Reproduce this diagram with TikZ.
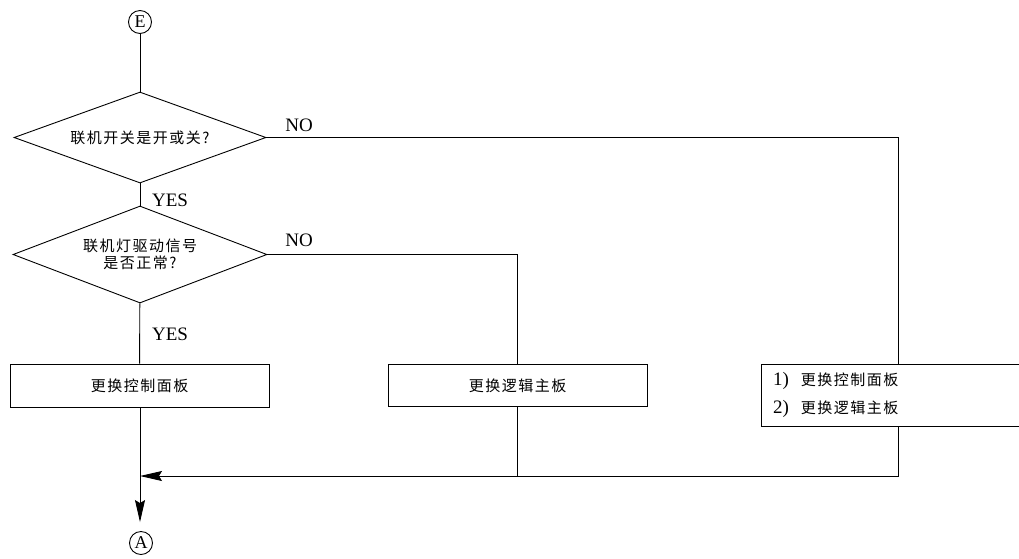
\documentclass[tikz,border=0pt]{standalone}
\usepackage{fontspec}
\setmainfont{Liberation Serif}
\newfontfamily\cjk[LetterSpace=10]{Noto Sans CJK SC}
\usetikzlibrary{shapes.geometric,arrows.meta}
\begin{document}
\begin{tikzpicture}[x=1pt,y=-1pt,
  line width=0.9pt,
  conn/.style={circle,draw,inner sep=0pt,minimum size=23pt,font=\fontsize{18}{18}\selectfont},
  dec/.style={diamond,draw,inner sep=0pt,aspect=2.7,font=\fontsize{15}{17}\selectfont\cjk,align=center},
  pbox/.style={rectangle,draw,inner sep=0pt,font=\fontsize{15}{17}\selectfont\cjk},
  lab/.style={font=\fontsize{19}{19}\selectfont,inner sep=0pt},
  arr/.style={-{Stealth[length=22pt,width=10pt,inset=3pt]}}]
\useasboundingbox (0,0) rectangle (1019,558);
\node[conn] (E) at (140,22) {E};
\node[dec,minimum width=252pt,minimum height=91pt] (d1) at (140,137.5) {联机开关是开或关?};
\node[dec,minimum width=254pt,minimum height=97pt] (d2) at (140,254.5) {联机灯驱动信号\\是否正常?};
\node[pbox,minimum width=259pt,minimum height=43pt] (b1) at (139.5,385.5) {更换控制面板};
\node[pbox,minimum width=259pt,minimum height=42pt] (b2) at (517.5,385.5) {更换逻辑主板};
\node[pbox,minimum width=264pt,minimum height=62pt,text width=240pt,align=left,
  font=\fontsize{15}{28}\selectfont\cjk] (b3) at (893,395)
  {{\fontsize{19}{28}\selectfont\rmfamily 1)}\hspace{12pt}更换控制面板\\{\fontsize{19}{28}\selectfont\rmfamily 2)}\hspace{12pt}更换逻辑主板};
\node[conn] (A) at (141,543) {A};
\node[lab] (yes1) at (170,200) {YES};
\node[lab] (yes2) at (170,334) {YES};
\node[lab] (no1) at (299,125) {NO};
\node[lab] (no2) at (299,240) {NO};
\coordinate (r1) at (898,137.5);
\coordinate (r2) at (517.5,254.5);
\coordinate (jr) at (898,476);
\coordinate (jm) at (517.5,476);
\coordinate (jl) at (140,476);
\draw (E) -- (d1);
\draw (d1) -- (d2);
\draw (d2) -- (b1);
\draw (d1.east) -- (r1) -- (r1 |- b3.north);
\draw (d2.east) -- (r2) -- (b2.north);
\draw (b3.south -| jr) -- (jr) -- (jm);
\draw (b2.south) -- (jm);
\draw[arr] (jm) -- (jl);
\draw[arr,shorten >=9pt] (b1.south -| jl) -- (jl |- A.north);
\end{tikzpicture}
\end{document}
